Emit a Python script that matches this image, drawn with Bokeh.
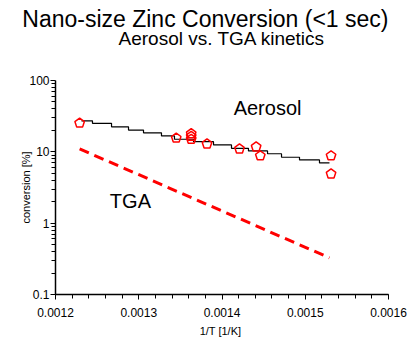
from bokeh.plotting import figure
from bokeh.models import Range1d, FixedTicker, Label, Title
from bokeh.embed import file_html
from bokeh.resources import INLINE

title_text = "Nano-size Zinc Conversion (<1 sec)"
subtitle_text = "Aerosol vs. TGA kinetics"
x_label = "1/T  [1/K]"
y_label = "conversion [%]"

x_ticks = [0.0012, 0.0013, 0.0014, 0.0015, 0.0016]
x_tick_labels = ["0.0012", "0.0013", "0.0014", "0.0015", "0.0016"]
y_ticks = [0.1, 1, 10, 100]
y_tick_labels = ["0.1", "1", "10", "100"]

# Aerosol measured points
aerosol_x = [0.001229, 0.001345, 0.001363, 0.001363, 0.001363, 0.001382,
             0.001421, 0.001441, 0.001446, 0.001531, 0.001531]
aerosol_y = [25.3, 15.6, 18.0, 16.5, 15.0, 12.9, 11.0, 11.7, 8.8, 8.8, 4.9]

# Aerosol fitted (stepped) curve
fit_x = [0.0012312, 0.0012444, 0.0012673, 0.0012877, 0.0013057, 0.0013273,
         0.0013429, 0.0013658, 0.0013898, 0.0014114, 0.0014318, 0.0014547,
         0.0014715, 0.0014931, 0.0015171, 0.0015291]
fit_y = [27.2, 25.1, 22.4, 20.2, 18.5, 16.7, 15.0, 13.9, 12.5, 11.2, 10.3,
         9.4, 8.4, 7.7, 7.0, 7.0]

# TGA kinetics line
tga_x = [0.001229, 0.001529]
tga_y = [11.0, 0.327]

FONT = "Liberation Sans"

p = figure(width=413, height=339, x_range=Range1d(0.0012, 0.0016),
           y_range=Range1d(0.1, 100), y_axis_type="log",
           output_backend="svg", toolbar_location=None, title_location=None,
           min_border_left=55, min_border_right=25,
           min_border_top=80, min_border_bottom=43)
p.outline_line_color = None
p.xgrid.visible = False
p.ygrid.visible = False
p.background_fill_color = "white"

# titles (first added is closest to the plot frame); first one is a spacer
p.add_layout(Title(text=" ", align="center", text_font=FONT,
                   text_font_size="18px", standoff=10), "above")
p.add_layout(Title(text=subtitle_text, align="center", text_font=FONT,
                   text_font_size="19px", text_font_style="normal",
                   text_color="black", standoff=0), "above")
p.add_layout(Title(text=title_text, align="right", text_font=FONT,
                   text_font_size="23px", text_font_style="normal",
                   text_color="black", standoff=-12), "above")

# axes
minor_x = [0.0012 + i * 0.00002 for i in range(21)]
p.xaxis.ticker = FixedTicker(ticks=x_ticks, minor_ticks=minor_x)
p.xaxis.major_label_overrides = {t: l for t, l in zip(x_ticks, x_tick_labels)}
minor_y = [m * d for d in [0.1, 1, 10] for m in range(2, 10)]
p.yaxis.ticker = FixedTicker(ticks=y_ticks, minor_ticks=minor_y)
p.yaxis.major_label_overrides = {t: l for t, l in zip(y_ticks, y_tick_labels)}

for ax in (p.xaxis[0], p.yaxis[0]):
    ax.axis_line_color = "black"
    ax.axis_line_width = 1.5
    ax.major_tick_line_color = "black"
    ax.minor_tick_line_color = "black"
    ax.major_tick_out = 5
    ax.major_tick_in = 0
    ax.minor_tick_out = 4
    ax.minor_tick_in = 0
    ax.major_label_text_font = FONT
    ax.major_label_text_font_size = "12px"
    ax.major_label_text_color = "black"
    ax.axis_label_text_font = FONT
    ax.axis_label_text_font_size = "11px"
    ax.axis_label_text_font_style = "normal"
    ax.axis_label_text_color = "black"

p.xaxis.axis_label = x_label
p.xaxis.major_label_standoff = 8
p.xaxis.axis_label_standoff = 5
p.yaxis.axis_label = y_label
p.yaxis.major_label_standoff = 1
p.yaxis.axis_label_standoff = -6

# TGA dashed line
p.line(tga_x, tga_y, line_color="red", line_width=3, line_dash="10 6")

# Aerosol fit
p.step(fit_x, fit_y, mode="after", line_color="black", line_width=1.2)

# Aerosol points (open pentagons)
p.ngon(x=aerosol_x, y=aerosol_y, radius=5, radius_units="screen", n=5,
       fill_color=None, line_color="red", line_width=1.5)

def lab(x, y, text, size):
    p.add_layout(Label(x=x, y=y, text=text, text_align="center",
                       text_baseline="middle", text_font=FONT,
                       text_font_size=size, text_color="black"))

lab(0.0014547, 40.8, "Aerosol", "20px")
lab(0.00129, 2.02, "TGA", "20px")

open("out.html", "w").write(file_html(p, INLINE))
